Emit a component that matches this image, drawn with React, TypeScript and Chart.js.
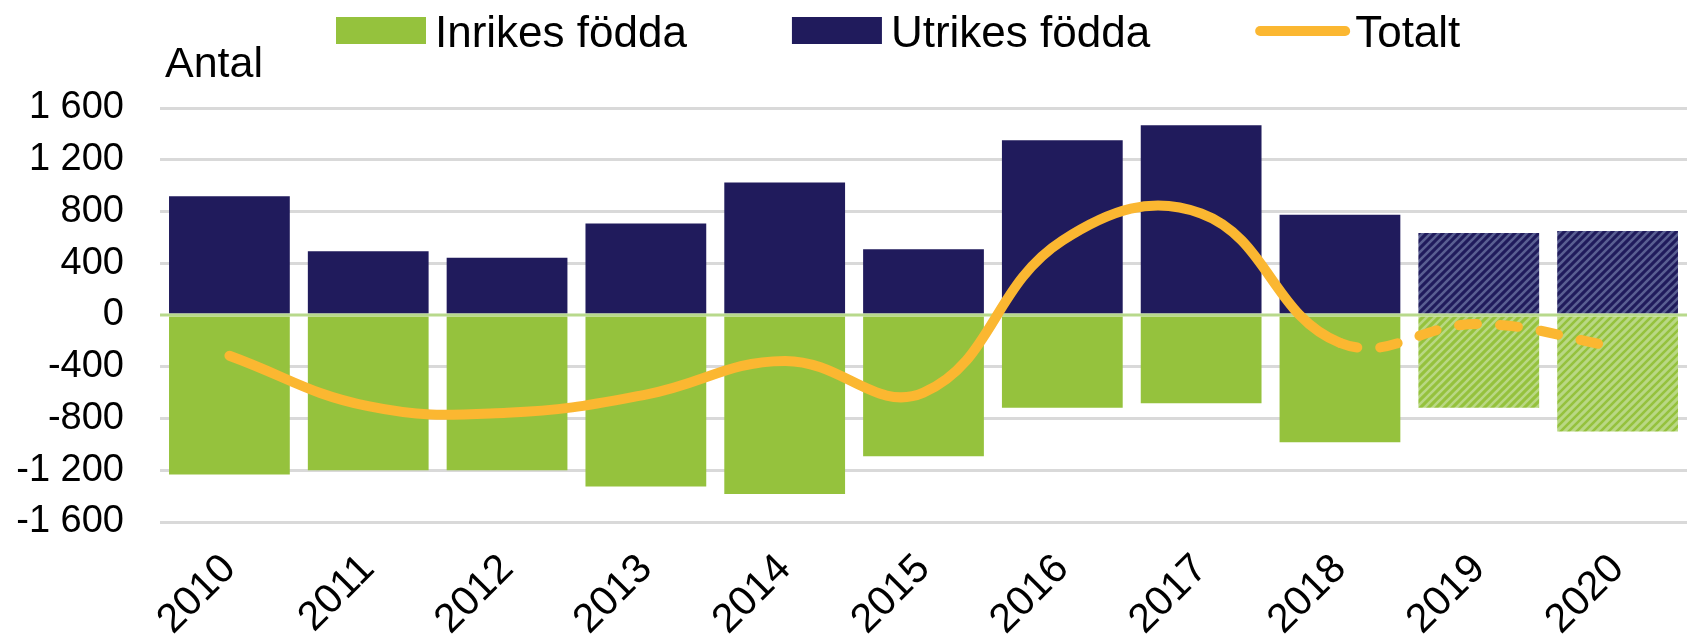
import React, { useEffect, useRef } from 'react';
import { Chart, registerables } from 'chart.js';

Chart.register(...registerables);

// ---- Data ----
const years = ['2010', '2011', '2012', '2013', '2014', '2015', '2016', '2017', '2018', '2019', '2020'];
const inrikesFodda = [-1233, -1200, -1200, -1325, -1383, -1092, -717, -683, -983, -717, -900];
const utrikesFodda = [917, 492, 442, 708, 1025, 508, 1350, 1467, 775, 633, 650];
const totalt = [-315, -705, -755, -615, -355, -600, 575, 785, -215, -70, -250];
const forecastYears = ['2019', '2020'];
const dashedFromYear = '2018';
const yMin = -1600;
const yMax = 1600;
const yStep = 400;
const legendLabels = ['Inrikes födda', 'Utrikes födda', 'Totalt'];
const yTitle = 'Antal';

// ---- Styles ----
const GREEN = '#95C23D';
const GREEN_LIGHT = '#B9D884';
const NAVY = '#201B5C';
const NAVY_STRIPE = '#5A5F92';
const ORANGE = '#FBB731';
const GRID = '#D9D9D9';
const ZERO = '#B8D98C';
const FONT = "'Liberation Sans', Arial, sans-serif";

function makePattern(bg: string, fg: string, size = 8, lw = 2.6) {
  const c = document.createElement('canvas');
  c.width = size;
  c.height = size;
  const g = c.getContext('2d')!;
  g.fillStyle = bg;
  g.fillRect(0, 0, size, size);
  g.strokeStyle = fg;
  g.lineWidth = lw;
  g.beginPath();
  g.moveTo(-1, size + 1);
  g.lineTo(size + 1, -1);
  g.moveTo(-size / 2 - 1, size / 2 + 1);
  g.lineTo(size / 2 + 1, -size / 2 - 1);
  g.moveTo(size / 2 - 1, size * 1.5 + 1);
  g.lineTo(size * 1.5 + 1, size / 2 - 1);
  g.stroke();
  return g.createPattern(c, 'repeat')!;
}

function fmt(v: number) {
  const s = Math.abs(v).toString().replace(/\B(?=(\d{3})+(?!\d))/g, ' ');
  return (v < 0 ? '-' : '') + s;
}

export default function App() {
  const ref = useRef<HTMLCanvasElement | null>(null);

  useEffect(() => {
    const canvas = ref.current!;
    const navyHatch = makePattern(NAVY, NAVY_STRIPE);
    const greenHatch = makePattern(GREEN, GREEN_LIGHT);
    const lightGreenHatch = makePattern(GREEN_LIGHT, GREEN);
    const inrikesFill: Record<string, any> = { '2019': greenHatch, '2020': lightGreenHatch };
    const dashStart = years.indexOf(dashedFromYear);

    const overlay = {
      id: 'overlay',
      afterDatasetDraw(chart: any, args: any) {
        if (args.index !== 0) return;
        const { ctx, chartArea } = chart;
        const y = chart.scales.y.getPixelForValue(0);
        ctx.save();
        ctx.strokeStyle = ZERO;
        ctx.lineWidth = 3;
        ctx.beginPath();
        ctx.moveTo(chartArea.left, y);
        ctx.lineTo(chartArea.right, y);
        ctx.stroke();
        ctx.restore();
      },
      afterDraw(chart: any) {
        const ctx = chart.ctx;
        ctx.save();
        ctx.fillStyle = '#000';
        ctx.textBaseline = 'alphabetic';
        ctx.textAlign = 'left';
        // y-axis title
        ctx.font = `43px ${FONT}`;
        ctx.fillText(yTitle, 165, 77);
        // legend
        ctx.font = `44px ${FONT}`;
        let x = 336;
        const cy = 31;
        legendLabels.forEach((label, i) => {
          if (i < 2) {
            ctx.fillStyle = i === 0 ? GREEN : NAVY;
            ctx.fillRect(x, 17, 90, 27);
            ctx.fillStyle = '#000';
            ctx.fillText(label, x + 99, 47);
            x = x + 99 + ctx.measureText(label).width + 105;
          } else {
            ctx.strokeStyle = ORANGE;
            ctx.lineWidth = 10;
            ctx.lineCap = 'round';
            ctx.beginPath();
            ctx.moveTo(x + 5, cy);
            ctx.lineTo(x + 90, cy);
            ctx.stroke();
            ctx.fillStyle = '#000';
            ctx.fillText(label, x + 100, 47);
          }
        });
        ctx.restore();
      },
    };

    const chart = new Chart(canvas, {
      type: 'bar',
      data: {
        labels: years,
        datasets: [
          {
            type: 'bar',
            label: legendLabels[0],
            data: inrikesFodda,
            backgroundColor: years.map((y) => inrikesFill[y] || GREEN),
            borderWidth: 0,
            order: 2,
            barPercentage: 0.87,
            categoryPercentage: 1,
          },
          {
            type: 'bar',
            label: legendLabels[1],
            data: utrikesFodda,
            backgroundColor: years.map((y) => (forecastYears.includes(y) ? navyHatch : NAVY)),
            borderWidth: 0,
            order: 2,
            barPercentage: 0.87,
            categoryPercentage: 1,
          },
          {
            type: 'line',
            label: legendLabels[2],
            data: totalt,
            borderColor: ORANGE,
            backgroundColor: ORANGE,
            borderWidth: 10,
            borderCapStyle: 'round',
            borderJoinStyle: 'round',
            pointRadius: 0,
            pointHoverRadius: 0,
            tension: 0.42,
            order: 1,
            segment: {
              borderDash: (ctx: any) => (ctx.p0DataIndex >= dashStart ? [18, 23] : undefined),
            },
          } as any,
        ],
      },
      options: {
        animation: false,
        responsive: false,
        devicePixelRatio: 1,
        layout: { padding: { top: 108, left: 13, right: 0, bottom: 0 } },
        plugins: {
          legend: { display: false },
          tooltip: { enabled: false },
        },
        scales: {
          x: {
            stacked: true,
            grid: { display: false },
            border: { display: false },
            ticks: {
              color: '#000',
              font: { family: FONT, size: 41 },
              minRotation: 45,
              maxRotation: 45,
              autoSkip: false,
              padding: 15,
            },
            afterFit: (scale: any) => {
              scale.height = 115;
            },
          },
          y: {
            stacked: true,
            min: yMin,
            max: yMax,
            border: { display: false },
            grid: {
              drawTicks: false,
              lineWidth: 3,
              color: (ctx: any) => (ctx.tick && ctx.tick.value === 0 ? 'rgba(0,0,0,0)' : GRID),
            },
            ticks: {
              stepSize: yStep,
              color: '#000',
              font: { family: FONT, size: 38 },
              padding: 36,
              callback: (v: any) => fmt(Number(v)),
            },
            afterFit: (scale: any) => {
              scale.width = 147;
            },
          },
        },
      },
      plugins: [overlay],
    });
    return () => chart.destroy();
  }, []);

  return (
    <div style={{ position: 'absolute', left: 0, top: 0, width: 1687, height: 637, background: '#fff' }}>
      <canvas ref={ref} width={1687} height={637} style={{ display: 'block' }} />
    </div>
  );
}
